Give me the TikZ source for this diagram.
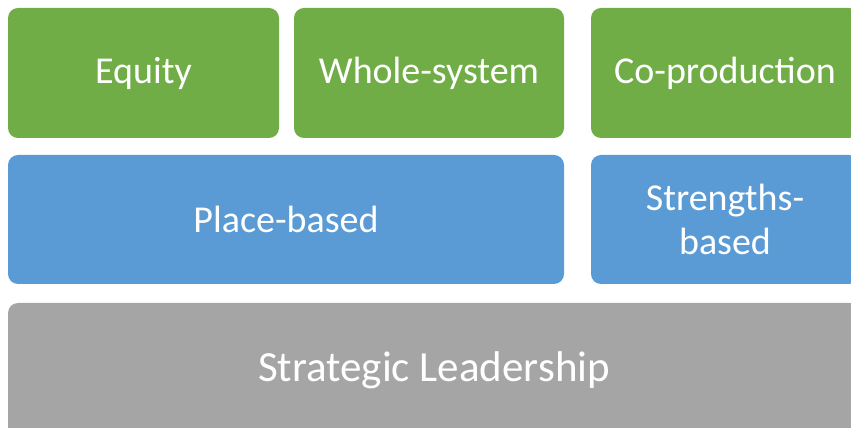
\documentclass[tikz,border=0pt]{standalone}
\usepackage{fontspec}
\setmainfont{Carlito}
\usepackage{tikz}
\usetikzlibrary{positioning}
\definecolor{boxgreen}{HTML}{70AD47}
\definecolor{boxblue}{HTML}{5B9BD5}
\definecolor{boxgrey}{HTML}{A5A5A5}
\tikzstyle{block}=[rounded corners=10pt,text=white,inner sep=0pt,align=center,font=\fontsize{38}{44}\selectfont]
\begin{document}
\begin{tikzpicture}[x=1pt,y=1pt]
\useasboundingbox (0,0) rectangle (851,428);
% top row
\node [block,fill=boxgreen,minimum width=271pt,minimum height=130pt] (equity) at (143.5,355) {Equity};
\node [block,fill=boxgreen,minimum width=270pt,minimum height=130pt] (whole) at (429,355) {Whole-system};
\node [block,fill=boxgreen,minimum width=268pt,minimum height=130pt] (coprod) at (725,355) {Co-production};
% middle row
\node [block,fill=boxblue,minimum width=556pt,minimum height=129pt] (place) at (286,208.5) {Place-based};
\node [block,fill=boxblue,minimum width=268pt,minimum height=129pt] (strength) at (725,208.5) {Strengths-\\based};
% bottom row
\node [block,fill=boxgrey,minimum width=852pt,minimum height=134pt,font=\fontsize{43}{49}\selectfont] (lead) at (434,58) {Strategic Leadership};
\end{tikzpicture}
\end{document}
